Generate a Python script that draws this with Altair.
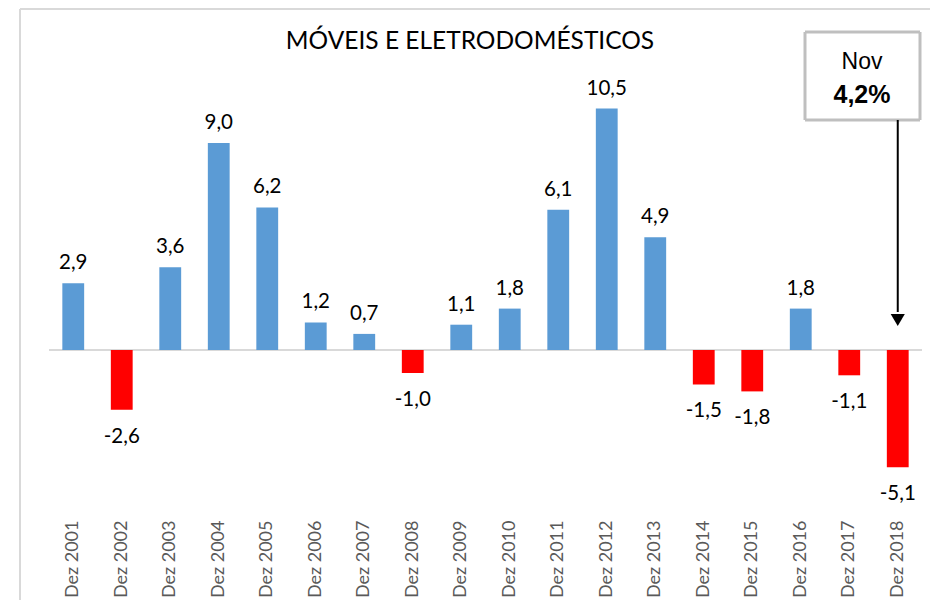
import altair as alt
import pandas as pd

categories = ["Dez 2001", "Dez 2002", "Dez 2003", "Dez 2004", "Dez 2005", "Dez 2006",
              "Dez 2007", "Dez 2008", "Dez 2009", "Dez 2010", "Dez 2011", "Dez 2012",
              "Dez 2013", "Dez 2014", "Dez 2015", "Dez 2016", "Dez 2017", "Dez 2018"]
values = [2.9, -2.6, 3.6, 9.0, 6.2, 1.2, 0.7, -1.0, 1.1, 1.8, 6.1, 10.5, 4.9, -1.5, -1.8, 1.8, -1.1, -5.1]
title_text = "MÓVEIS E ELETRODOMÉSTICOS"
note_month = "Nov"
note_value = "4,2%"
note_category = "Dez 2018"

df = pd.DataFrame({"cat": categories, "val": values})
df["label"] = [f"{v:.1f}".replace(".", ",") for v in values]
df["sign"] = ["pos" if v >= 0 else "neg" for v in values]
df["zero"] = 0.0

W, H = 873, 495
xscale = alt.Scale(domain=categories, paddingInner=0.55, paddingOuter=0.275)
yscale = alt.Scale(domain=[-7.174, 14.348], nice=False, zero=False)
xaxis = alt.Axis(title=None, labelAngle=-90, domain=False, ticks=False,
                 labelColor="#595959", labelFont="Lato", labelFontSize=18,
                 labelPadding=5, labelAlign="right", labelBaseline="middle")


def X():
    return alt.X("cat:N", scale=xscale, axis=xaxis)


def Y(field):
    return alt.Y(field, scale=yscale, axis=None)


one = pd.DataFrame({"a": [0]})


def hline(x1, x2, y, color, sw):
    return alt.Chart(one).mark_rule(color=color, strokeWidth=sw).encode(
        x=alt.value(x1), x2=alt.value(x2), y=alt.value(y))


def vline(x, y1, y2, color, sw):
    return alt.Chart(one).mark_rule(color=color, strokeWidth=sw).encode(
        x=alt.value(x), y=alt.value(y1), y2=alt.value(y2))


border = [hline(-29, 888, -11, "#d9d9d9", 2), hline(-29, 888, 586, "#d9d9d9", 2),
          vline(-29, -11, 586, "#d9d9d9", 2), vline(888, -11, 586, "#d9d9d9", 2)]
box = [hline(756, 871, 12, "#bfbfbf", 3), hline(756, 871, 100, "#bfbfbf", 3),
       vline(756, 12, 100, "#bfbfbf", 3), vline(871, 12, 100, "#bfbfbf", 3)]

base = alt.Chart(df)

bars = base.mark_bar().encode(
    x=X(),
    y=Y("val:Q"),
    y2="zero:Q",
    color=alt.Color("sign:N", scale=alt.Scale(domain=["pos", "neg"], range=["#5B9BD5", "#FF0000"]), legend=None),
)

zero = base.mark_rule(color="#d9d9d9", strokeWidth=1.5).encode(
    y=Y("zero:Q"), x=alt.value(0), x2=alt.value(W))

pos_labels = base.transform_filter("datum.val >= 0").mark_text(
    baseline="bottom", dy=-10, font="Lato", fontSize=20.5, color="black").encode(
    x=X(), y=Y("val:Q"), text="label:N")
neg_labels = base.transform_filter("datum.val < 0").mark_text(
    baseline="top", dy=17, font="Lato", fontSize=20.5, color="black").encode(
    x=X(), y=Y("val:Q"), text="label:N")

title = alt.Chart(one).mark_text(font="Lato", fontSize=24.5, color="black").encode(
    x=alt.value(421), y=alt.value(22), text=alt.value(title_text))
nov = alt.Chart(one).mark_text(font="Liberation Sans", fontSize=23, color="black").encode(
    x=alt.value(813), y=alt.value(42), text=alt.value(note_month))
pct = alt.Chart(one).mark_text(font="Liberation Sans", fontSize=25, fontWeight="bold", color="black").encode(
    x=alt.value(813), y=alt.value(75), text=alt.value(note_value))

arrow_base = base.transform_filter(alt.datum.cat == note_category)
arrow = arrow_base.mark_rule(color="black", strokeWidth=2).encode(
    x=X(), y=alt.value(100), y2=alt.value(292))
head = arrow_base.mark_point(shape="triangle-down", filled=True, color="black", size=200, opacity=1).encode(
    x=X(), y=alt.value(300))

chart = alt.layer(*border, zero, bars, pos_labels, neg_labels, title, *box, nov, pct, arrow, head).properties(
    width=W, height=H,
    autosize=alt.AutoSizeParams(type="none"),
    padding={"left": 41, "top": 12, "right": 8, "bottom": 85},
    background="white",
).configure_view(strokeWidth=0)

chart.save("out.html", embed_options={"renderer": "svg", "actions": False})
